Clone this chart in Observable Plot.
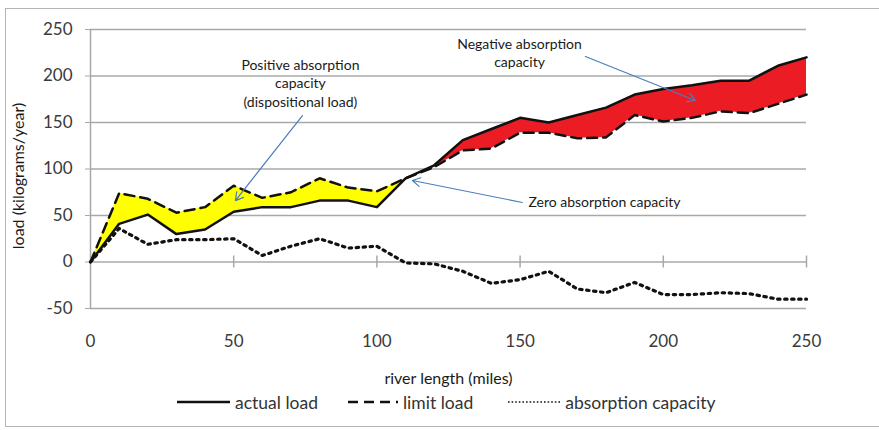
<!DOCTYPE html>
<html>
<head>
<meta charset="utf-8">
<script src="https://cdn.jsdelivr.net/npm/d3@7"></script>
<script src="https://cdn.jsdelivr.net/npm/@observablehq/plot@0.6"></script>
<style>
  html, body { margin: 0; padding: 0; background: #fff; }
  #wrap { position: relative; width: 879px; height: 430px; overflow: hidden; font-family: Lato, "Open Sans", sans-serif; }
  #frame { position: absolute; left: 5px; top: 8px; width: 900px; height: 419px; border-left: 1.5px solid #b4b4b4; border-top: 1.5px solid #b4b4b4; border-bottom: 1.5px solid #b4b4b4; box-sizing: border-box; }
  #chart { position: absolute; left: 0; top: 0; }
  #legend { position: absolute; left: 177px; top: 390px; height: 24px; display: flex; align-items: center; font-size: 17.5px; color: #333; }
  .item { display: flex; align-items: center; }
  .item svg { display: block; }
</style>
</head>
<body>
<div id="wrap">
  <div id="frame"></div>
  <div id="chart"></div>
  <div id="legend"></div>
</div>
<script>
// ---- data ----
const miles      = [0,10,20,30,40,50,60,70,80,90,100,110,120,130,140,150,160,170,180,190,200,210,220,230,240,250];
const actualLoad = [0,41,51,30,35,54,59,59,66,66,59,90,104,131,143,155,150,158,166,180,186,190,195,195,211,220];
const limitLoad  = [0,74,68,53,59,82,69,75,90,80,76,90,102,120,122,139,139,133,134,158,151,155,162,160,170,180];
const absorption = [0,36,19,24,24,25,7,17,25,15,17,-1,-2,-10,-23,-19,-10,-29,-33,-22,-35,-35,-33,-34,-40,-40];

const xTicks = [0,50,100,150,200,250];
const yTicks = [-50,0,50,100,150,200,250];

const seriesNames = ["actual load", "limit load", "absorption capacity"];

// annotation texts and arrows (in data units)
const notes = [
  {text: "Positive absorption\ncapacity\n(dispositional load)", x: 73.3, y: 193, anchor: "middle"},
  {text: "Negative absorption\ncapacity", x: 149.8, y: 226, anchor: "middle"},
  {text: "Zero absorption capacity", x: 152.9, y: 64, anchor: "start"}
];
const arrows = [
  {x1: 74, y1: 157.5, x2: 50.6, y2: 66},
  {x1: 172.8, y1: 221, x2: 211.2, y2: 173.7},
  {x1: 150.8, y1: 64, x2: 112.4, y2: 87.6}
];

const data = miles.map((m, i) => ({mile: m, actual: actualLoad[i], limit: limitLoad[i], absorb: absorption[i]}));

const gridColor = "#a8a8a8";
const arrowColor = "#4a7ebb";

const chart = Plot.plot({
  width: 879,
  height: 388,
  marginLeft: 90,
  marginRight: 73,
  marginTop: 29,
  marginBottom: 80,
  x: {domain: [0, 250]},
  y: {domain: [-50, 250]},
  style: {fontFamily: "Lato, 'Open Sans', sans-serif", background: "transparent", overflow: "visible"},
  marks: [
    Plot.ruleY(yTicks, {stroke: gridColor, strokeWidth: 1.5}),
    Plot.ruleX([0], {stroke: gridColor, strokeWidth: 1.5}),
    Plot.ruleX(xTicks.filter(d => d > 0), {x: d => d, y1: 0, y2: 0, insetTop: -6, insetBottom: -6, stroke: gridColor, strokeWidth: 1.5}),
    Plot.axisY({ticks: yTicks, tickSize: 5, tickPadding: 13, fontSize: 17, stroke: gridColor, fill: "#3a3a3a", label: null, tickFormat: d => String(d)}),
    Plot.axisX({ticks: xTicks, tickSize: 0, tickPadding: 26, fontSize: 17, fill: "#3a3a3a", label: null, tickFormat: d => String(d)}),
    Plot.areaY(data.filter(d => d.mile <= 110), {x: "mile", y1: "actual", y2: "limit", fill: "#ffff00"}),
    Plot.areaY(data.filter(d => d.mile >= 110), {x: "mile", y1: "actual", y2: "limit", fill: "#ec1c24"}),
    Plot.line(data, {x: "mile", y: "absorb", stroke: "#111", strokeWidth: 3.2, strokeDasharray: "2.4,4.6"}),
    Plot.line(data, {x: "mile", y: "limit", stroke: "#111", strokeWidth: 2.5, strokeDasharray: "10,6"}),
    Plot.line(data, {x: "mile", y: "actual", stroke: "#111", strokeWidth: 2.5}),
    Plot.arrow(arrows, {x1: "x1", y1: "y1", x2: "x2", y2: "y2", stroke: arrowColor, strokeWidth: 1.2, headLength: 11}),
    Plot.text(notes.filter(d => d.anchor === "middle"), {x: "x", y: "y", text: "text", textAnchor: "middle", lineAnchor: "middle", lineHeight: 1.32, fontSize: 14, fill: "#1a1a1a"}),
    Plot.text(notes.filter(d => d.anchor === "start"), {x: "x", y: "y", text: "text", textAnchor: "start", lineAnchor: "middle", fontSize: 14, fill: "#1a1a1a"}),
    Plot.text(["load (kilograms/year)"], {frameAnchor: "left", dx: -72, dy: 7, rotate: -90, text: d => d, fontSize: 16, fill: "#1a1a1a", textAnchor: "middle", lineAnchor: "middle"}),
    Plot.text(["river length (miles)"], {frameAnchor: "bottom", dy: 70, text: d => d, fontSize: 16, fill: "#1a1a1a", textAnchor: "middle", lineAnchor: "middle"})
  ]
});
document.getElementById("chart").appendChild(chart);

// legend
const legendStyles = [
  {dash: null, w: 53, sw: 2.5, gapAfter: 30, pad: 5},
  {dash: "10,6", w: 50, sw: 2.5, gapAfter: 35, pad: 5},
  {dash: "1.6,2", w: 53, sw: 1.6, gapAfter: 0, pad: 4}
];
const legend = document.getElementById("legend");
seriesNames.forEach((name, i) => {
  const s = legendStyles[i];
  const item = document.createElement("div");
  item.className = "item";
  item.style.marginRight = s.gapAfter + "px";
  item.innerHTML = `<svg width="${s.w}" height="10"><line x1="0" x2="${s.w}" y1="5" y2="5" stroke="#111" stroke-width="${s.sw}" ${s.dash ? `stroke-dasharray="${s.dash}"` : ""}/></svg><span style="margin-left:${s.pad}px">${name}</span>`;
  legend.appendChild(item);
});
</script>
</body>
</html>
